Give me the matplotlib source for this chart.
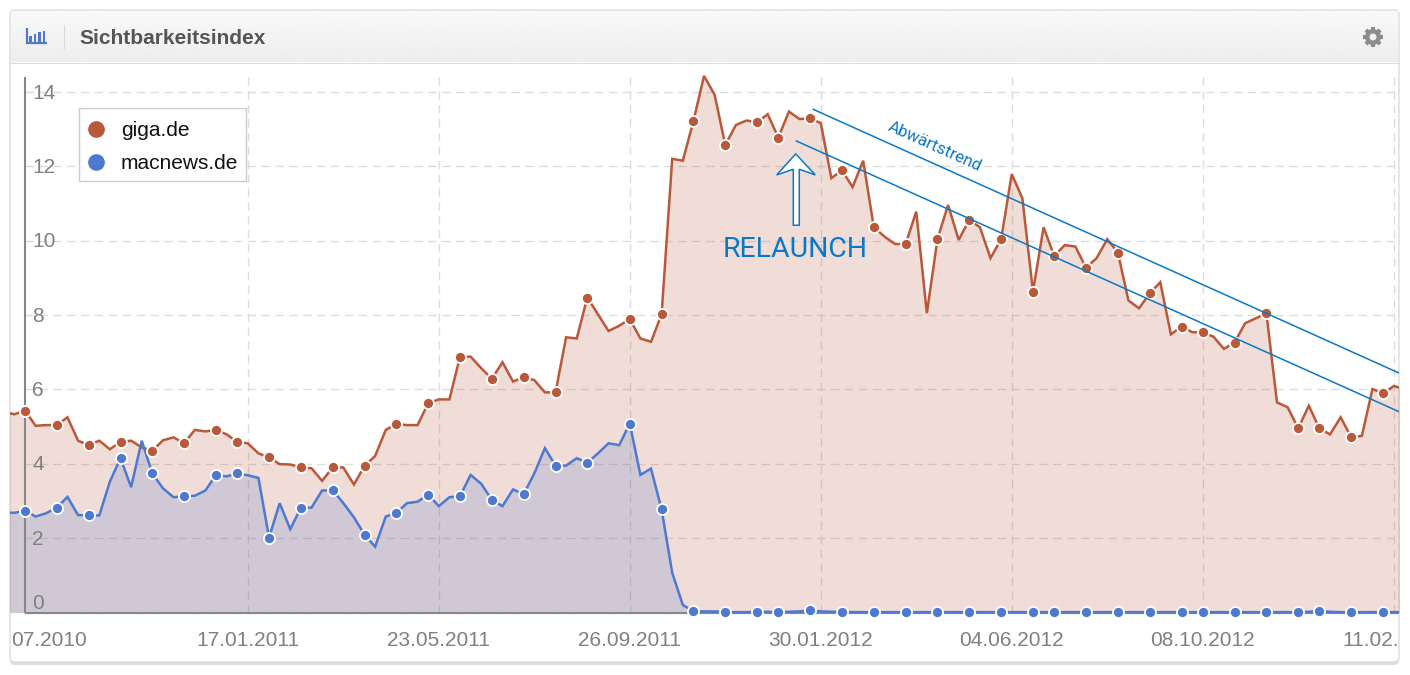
import numpy as np
import matplotlib
matplotlib.use("Agg")
import matplotlib.pyplot as plt
from matplotlib.lines import Line2D
from matplotlib.patches import FancyBboxPatch, Polygon, Rectangle, Circle

# one value per week, first one sits just left of the frame
giga = [5.40, 5.33, 5.43, 5.02, 5.04, 5.04, 5.25, 4.62, 4.50, 4.62, 4.39, 4.59, 4.62, 4.44, 4.35, 4.63,
        4.71, 4.55, 4.91, 4.87, 4.91, 4.79, 4.59, 4.55, 4.28, 4.17, 3.99, 3.98, 3.90, 3.88, 3.54, 3.90,
        3.90, 3.44, 3.94, 4.21, 4.91, 5.07, 5.04, 5.04, 5.63, 5.73, 5.73, 6.88, 6.88, 6.57, 6.28, 6.73,
        6.21, 6.33, 6.25, 5.92, 5.92, 7.40, 7.37, 8.47, 8.02, 7.57, 7.71, 7.89, 7.37, 7.28, 8.02, 12.20,
        12.15, 13.22, 14.43, 13.92, 12.57, 13.11, 13.23, 13.18, 13.40, 12.77, 13.47, 13.27, 13.29, 13.16,
        11.68, 11.89, 11.44, 12.15, 10.36, 10.11, 9.91, 9.91, 10.78, 8.05, 10.04, 10.96, 10.02, 10.56,
        10.36, 9.53, 10.04, 11.79, 11.14, 8.63, 10.36, 9.59, 9.88, 9.84, 9.27, 9.53, 10.04, 9.68, 8.39,
        8.18, 8.58, 8.88, 7.48, 7.69, 7.54, 7.53, 7.42, 7.09, 7.26, 7.78, 7.91, 8.05, 5.65, 5.52, 4.95,
        5.56, 4.95, 4.79, 5.25, 4.71, 4.75, 6.01, 5.89, 6.09, 6.01]
macnews = [2.69, 2.68, 2.74, 2.58, 2.67, 2.82, 3.11, 2.62, 2.61, 2.61, 3.52, 4.15, 3.37, 4.62, 3.74, 3.34,
           3.10, 3.13, 3.14, 3.28, 3.70, 3.66, 3.74, 3.69, 3.62, 2.01, 2.94, 2.24, 2.82, 2.82, 3.28, 3.29,
           2.94, 2.56, 2.09, 1.77, 2.58, 2.68, 2.94, 2.98, 3.17, 2.86, 3.10, 3.13, 3.70, 3.46, 3.03, 2.86,
           3.31, 3.18, 3.74, 4.42, 3.95, 3.95, 4.15, 4.03, 4.28, 4.55, 4.50, 5.08, 3.70, 3.87, 2.77, 1.07,
           0.20, 0.04, 0.03, 0.03, 0.01, 0.01, 0.01, 0.02, 0.02, 0.01, 0.02, 0.03, 0.06, 0.03, 0.02, 0.02,
           0.01, 0.01, 0.01, 0.01, 0.01, 0.01, 0.01, 0.01, 0.01, 0.01, 0.01, 0.01, 0.01, 0.01, 0.01, 0.01,
           0.01, 0.01, 0.01, 0.01, 0.01, 0.01, 0.01, 0.01, 0.01, 0.01, 0.01, 0.01, 0.01, 0.01, 0.01, 0.01,
           0.01, 0.01, 0.01, 0.01, 0.01, 0.01, 0.01, 0.01, 0.01, 0.01, 0.01, 0.02, 0.04, 0.02, 0.01, 0.01,
           0.01, 0.01, 0.01, 0.01, 0.01]
weeks = np.arange(-1, len(giga) - 1)
marker_weeks = [1, 4, 7, 10, 13, 16, 19, 21, 24, 27, 30, 33, 36, 39, 42, 45, 48, 51, 54, 58, 61, 64, 67, 70,
                72, 75, 78, 81, 84, 87, 90, 93, 96, 98, 101, 104, 107, 110, 112, 115, 118, 121, 123, 126, 129]
grid_weeks = [22, 40, 58, 76, 94, 112, 130]
tick_weeks = [3.26, 22, 40, 58, 76, 94, 112, 127.8]
tick_labels = ["07.2010", "17.01.2011", "23.05.2011", "26.09.2011", "30.01.2012", "04.06.2012",
               "08.10.2012", "11.02."]
y_values = [0, 2, 4, 6, 8, 10, 12, 14]
upper_trend = ([75.3, 130.5], [13.53, 6.44])
lower_trend = ([73.7, 130.5], [12.68, 5.40])

RED = "#b9593a"
BLUE = "#4d79cf"
TREND = "#0a78c8"
GREY = "#878787"
GRID = "#dcdcdc"

plt.rcParams["font.family"] = ["Liberation Sans", "DejaVu Sans"]
W, H = 1410, 675
fig = plt.figure(figsize=(W / 100, H / 100), dpi=100, facecolor="white")

# overlay in pixels for the panel chrome
bg = fig.add_axes([0, 0, 1, 1], zorder=0)
bg.set_xlim(0, W)
bg.set_ylim(H, 0)
bg.axis("off")
bg.add_patch(FancyBboxPatch((10, 11), 1389, 654, boxstyle="round,pad=0,rounding_size=5",
                            fc="#dedede", ec="none"))
bg.add_patch(FancyBboxPatch((10, 10), 1389, 652, boxstyle="round,pad=0,rounding_size=5",
                            fc="white", ec="#dcdcdc", lw=1))
bg.imshow(np.linspace(0.975, 0.93, 50).reshape(-1, 1), cmap="gray", vmin=0, vmax=1, aspect="auto",
          extent=(11, 1398, 62, 11), zorder=2)
bg.set_xlim(0, W)
bg.set_ylim(H, 0)
bg.plot([10, 1399], [62.5, 62.5], color="#dcdcdc", lw=0.8, zorder=3)
bg.plot([63.5, 63.5], [25, 48], color="#d8d8d8", lw=0.8, zorder=3)
bg.text(79, 38, "Sichtbarkeitsindex", fontsize=15, fontweight="bold", color="#555555",
        va="center", ha="left", zorder=3)
# chart icon
bg.plot([27, 27], [28, 44], color=BLUE, lw=1.6, zorder=3, solid_capstyle="butt")
bg.plot([26, 47], [43, 43], color=BLUE, lw=1.6, zorder=3, solid_capstyle="butt")
for bx, bt in zip([30.5, 35, 39.5, 44], [36, 34, 32, 31]):
    bg.add_patch(Rectangle((bx - 1.3, bt), 2.6, 41.5 - bt, fc=BLUE, ec="none", zorder=3))
# gear icon
for a in np.arange(0, np.pi, np.pi / 4):
    bg.plot([1373 - 10 * np.cos(a), 1373 + 10 * np.cos(a)], [37 - 10 * np.sin(a), 37 + 10 * np.sin(a)],
            color="#8c8c8c", lw=3, zorder=3, solid_capstyle="butt")
bg.add_patch(Circle((1373, 37), 8, fc="#8c8c8c", ec="none", zorder=3))
bg.add_patch(Circle((1373, 37), 3.5, fc="#f0f0f0", ec="none", zorder=4))

# x: 1 week = 10.61 px, week 0 at px 14.4; y: 1 unit = 37.18 px, zero at py 612.5
left, right = 10.4, 1398.5
top, bottom = 64, 631.1
ax = fig.add_axes([left / W, 1 - bottom / H, (right - left) / W, (bottom - top) / H], zorder=1)
ax.patch.set_alpha(0)
ax.set_xlim((left - 14.4) / 10.61, (right - 14.4) / 10.61)
ax.set_ylim(-0.5, 14.75)
for s in ax.spines.values():
    s.set_visible(False)

ax.hlines(y_values, 1, 130, color=GRID, lw=1.0, linestyles=(0, (6, 4)), zorder=1)
ax.vlines(grid_weeks, 0, 14.4, color=GRID, lw=1.0, linestyles=(0, (6, 4)), zorder=1)

ax.fill_between(weeks, giga, 0, color=RED, alpha=0.2, lw=0, zorder=2)
ax.fill_between(weeks, macnews, 0, color=BLUE, alpha=0.2, lw=0, zorder=2)

ax.vlines(1, 0, 14.4, color=GREY, lw=1.5, zorder=3)
ax.hlines(0, 1, 131, color=GREY, lw=1.5, zorder=3)

for vals, col in ((giga, RED), (macnews, BLUE)):
    vals = np.array(vals)
    ax.plot(weeks, vals, color=col, lw=1.8, zorder=4, solid_joinstyle="miter")
    idx = np.array(marker_weeks) + 1
    ax.plot(weeks[idx], vals[idx], ls="none", marker="o", ms=8, mfc=col, mec="white", mew=1.3, zorder=5)

for v in y_values:
    ax.text(1.68, v - 0.03 + (0.28 if v == 0 else 0), str(v), fontsize=15, color="#808080",
            va="center", ha="left", zorder=3)

ax.set_yticks([])
ax.set_xticks(tick_weeks)
ax.set_xticklabels(tick_labels, fontsize=15, color="#808080")
ax.tick_params(axis="x", length=0, pad=-0.2)

# trend channel and relaunch note
ax.plot(*upper_trend, color=TREND, lw=1.1, zorder=6)
ax.plot(*lower_trend, color=TREND, lw=1.1, zorder=6)
ax.text(86.7, 12.52, "Abwärtstrend", family="Roboto", fontsize=12.2, color=TREND, rotation=-24.2,
        rotation_mode="anchor", ha="center", va="center", zorder=6)
ax.text(73.6, 9.75, "RELAUNCH", family="Roboto", fontsize=20.4, color=TREND, ha="center", va="center", zorder=6)
arrow_x = [795.7, 815.3, 799.3, 799.3, 793.3, 793.3, 776.7]
arrow_y = [154, 175, 169.3, 225.3, 225.3, 169.3, 175]
ax.add_patch(Polygon(np.column_stack([(np.array(arrow_x) - 14.4) / 10.61, (612.5 - np.array(arrow_y)) / 37.18]),
                     closed=True, fc="white", ec=TREND, lw=1.1, zorder=6))

# legend box, placed in figure pixels through the overlay
px = bg.transData
ax.add_patch(Rectangle((79, 108), 167, 73, fc="white", ec="#cccccc", lw=1, transform=px, zorder=7))
for name, col, ly in (("giga.de", RED, 128.5), ("macnews.de", BLUE, 162)):
    ax.add_line(Line2D([96], [ly], ls="none", marker="o", ms=11, color=col, transform=px, zorder=8))
    ax.text(121, ly + 7, name, fontsize=15, color="#111111", va="baseline", ha="left", transform=px, zorder=8)

fig.savefig("out.png", dpi=100)
